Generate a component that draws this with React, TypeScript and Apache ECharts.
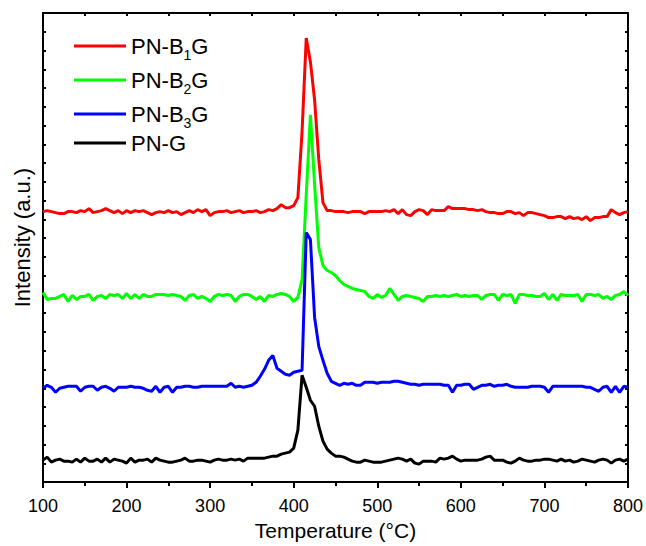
import React, { useEffect, useRef } from "react";
import * as echarts from "echarts";

// Temperature grid (°C)
const temperatures = [
  100, 105, 110, 115, 120, 125, 130, 135, 140, 145, 150, 155, 160, 165, 170, 175, 180, 185, 190, 195,
  200, 205, 210, 215, 220, 225, 230, 235, 240, 245, 250, 255, 260, 265, 270, 275, 280, 285, 290, 295,
  300, 305, 310, 315, 320, 325, 330, 335, 340, 345, 350, 355, 360, 365, 370, 375, 380, 385, 390, 395,
  400, 405, 410, 415, 420, 425, 430, 435, 440, 445, 450, 455, 460, 465, 470, 475, 480, 485, 490, 495,
  500, 505, 510, 515, 520, 525, 530, 535, 540, 545, 550, 555, 560, 565, 570, 575, 580, 585, 590, 595,
  600, 605, 610, 615, 620, 625, 630, 635, 640, 645, 650, 655, 660, 665, 670, 675, 680, 685, 690, 695,
  700, 705, 710, 715, 720, 725, 730, 735, 740, 745, 750, 755, 760, 765, 770, 775, 780, 785, 790, 795,
  800,
];

const seriesNames = ["PN-B1G", "PN-B2G", "PN-B3G", "PN-G"];

// Intensities (a.u., offset traces)
const pnB1G = [
  271, 272, 271, 270, 269, 269, 271, 271, 270, 272, 271, 274, 270, 271, 272, 274, 272, 270, 272, 269,
  272, 270, 272, 271, 272, 270, 268, 270, 271, 270, 272, 270, 271, 268, 270, 272, 270, 273, 271, 273,
  267, 270, 271, 271, 272, 270, 271, 272, 270, 271, 271, 272, 270, 271, 273, 272, 274, 278, 275, 275,
  277, 285, 351, 445, 421, 383, 323, 280, 272, 272, 271, 271, 271, 270, 271, 271, 271, 269, 271, 271,
  271, 271, 272, 271, 273, 269, 273, 268, 267, 271, 273, 272, 268, 273, 272, 272, 272, 276, 274, 274,
  274, 274, 273, 273, 272, 273, 271, 270, 270, 269, 269, 271, 271, 269, 270, 267, 270, 270, 269, 268,
  267, 265, 265, 266, 266, 264, 266, 264, 265, 263, 266, 262, 265, 265, 266, 266, 273, 270, 268, 270,
  271,
];

const pnB2G = [
  190, 183, 184, 184, 186, 188, 181, 187, 183, 186, 186, 188, 182, 186, 187, 184, 188, 187, 188, 184,
  189, 184, 188, 184, 188, 186, 186, 188, 188, 188, 187, 188, 187, 186, 182, 187, 188, 184, 186, 184,
  181, 186, 188, 187, 188, 187, 181, 186, 188, 188, 186, 183, 186, 181, 187, 186, 188, 189, 188, 186,
  181, 185, 203, 288, 368, 298, 235, 217, 212, 210, 207, 202, 198, 196, 194, 193, 192, 191, 186, 184,
  188, 185, 187, 194, 188, 182, 186, 187, 186, 185, 184, 181, 186, 186, 187, 186, 187, 186, 187, 188,
  186, 187, 186, 187, 187, 183, 187, 188, 188, 182, 188, 187, 188, 179, 188, 188, 187, 187, 186, 186,
  189, 183, 188, 182, 188, 187, 187, 187, 188, 181, 188, 188, 187, 188, 184, 186, 183, 187, 188, 191,
  187,
];

const pnB3G = [
  94, 97, 95, 90, 94, 95, 96, 96, 96, 91, 95, 96, 96, 92, 95, 96, 94, 91, 95, 95,
  95, 96, 95, 95, 94, 92, 91, 96, 90, 95, 96, 90, 95, 95, 96, 96, 95, 95, 96, 96,
  96, 96, 96, 96, 96, 99, 95, 96, 95, 96, 97, 100, 106, 113, 122, 127, 114, 111, 108, 107,
  110, 111, 112, 250, 243, 165, 136, 122, 109, 101, 99, 97, 99, 98, 99, 97, 97, 100, 100, 100,
  99, 100, 100, 100, 101, 101, 100, 99, 98, 98, 97, 98, 98, 98, 98, 98, 97, 97, 90, 97,
  97, 98, 98, 93, 95, 97, 97, 98, 96, 97, 97, 98, 96, 95, 95, 95, 95, 96, 96, 96,
  95, 90, 96, 96, 96, 96, 96, 96, 96, 96, 95, 95, 93, 91, 95, 96, 90, 96, 90, 96,
  95,
];

const pnG = [
  22, 25, 20, 22, 23, 21, 21, 20, 23, 20, 24, 21, 21, 23, 20, 24, 20, 23, 22, 21,
  19, 24, 20, 22, 22, 23, 20, 24, 22, 21, 20, 20, 21, 22, 24, 21, 21, 22, 22, 21,
  20, 22, 23, 22, 22, 23, 22, 23, 21, 24, 24, 24, 24, 24, 25, 26, 26, 28, 29, 30,
  34, 52, 107, 95, 82, 76, 56, 41, 33, 29, 26, 26, 25, 23, 21, 20, 20, 22, 21, 20,
  20, 20, 21, 22, 23, 24, 23, 21, 23, 19, 18, 21, 21, 21, 20, 24, 23, 24, 26, 23,
  21, 22, 22, 22, 22, 23, 25, 26, 22, 22, 22, 20, 19, 21, 24, 22, 21, 21, 22, 22,
  23, 23, 22, 21, 23, 21, 22, 20, 21, 23, 22, 21, 20, 22, 23, 22, 19, 22, 23, 21,
  23,
];

const seriesColors = ["#ff0000", "#00ff00", "#0000ff", "#000000"];
const xTickValues = [100, 800, 100];
const yRange = [0, 470, 18.8];

export default function App() {
  const ref = useRef<HTMLDivElement>(null);
  useEffect(() => {
    if (!ref.current) return;
    const chart = echarts.init(ref.current, null, { renderer: "svg" });
    const font = "Liberation Sans, Arial, sans-serif";
    const allValues = [pnB1G, pnB2G, pnB3G, pnG];
    const series = allValues.map((vals, i) => ({
      name: seriesNames[i],
      type: "line",
      data: temperatures.map((t, j) => [t, vals[j]]),
      symbol: "none",
      showSymbol: false,
      lineStyle: { color: seriesColors[i], width: 3 },
      itemStyle: { color: seriesColors[i] },
      xAxisIndex: 0,
      yAxisIndex: 0,
      z: 2 + i,
    }));
    const axisLine = { show: true, onZero: false, lineStyle: { color: "#000", width: 2 } };
    chart.setOption({
      animation: false,
      backgroundColor: "#fff",
      grid: { left: 43, right: 17, top: 13, bottom: 63, containLabel: false },
      legend: {
        orient: "vertical",
        left: 74,
        top: 30,
        padding: 0,
        icon: "rect",
        itemWidth: 52,
        itemHeight: 3,
        itemGap: 2,
        data: seriesNames,
        formatter: (name: string) => {
          const m = name.match(/^(PN-B)(\d)(G)$/);
          if (m) return `{a|${m[1]}}{s|${m[2]}}{a|${m[3]}}`;
          return `{a|${name}}`;
        },
        textStyle: {
          color: "#000",
          fontFamily: font,
          rich: {
            a: { fontSize: 22, fontFamily: font, color: "#000", lineHeight: 32, verticalAlign: "middle" },
            s: {
              fontSize: 14,
              fontFamily: font,
              color: "#000",
              lineHeight: 14,
              verticalAlign: "top",
              padding: [18, 0, 0, 0],
            },
          },
        },
      },
      xAxis: [
        {
          type: "value",
          position: "bottom",
          min: xTickValues[0],
          max: xTickValues[1],
          interval: xTickValues[2],
          name: "Temperature (°C)",
          nameLocation: "middle",
          nameGap: 36,
          nameTextStyle: { fontSize: 21, fontFamily: font, color: "#000" },
          axisLine,
          axisTick: { show: true, length: 6, lineStyle: { color: "#000", width: 2 } },
          minorTick: { show: true, splitNumber: 2, length: 4, lineStyle: { color: "#000", width: 2 } },
          splitLine: { show: false },
          minorSplitLine: { show: false },
          axisLabel: { fontSize: 18, fontFamily: font, color: "#000", margin: 15 },
        },
        {
          type: "value",
          position: "top",
          min: xTickValues[0],
          max: xTickValues[1],
          interval: xTickValues[2] / 2,
          axisLine,
          axisTick: { show: true, inside: true, length: 3, lineStyle: { color: "#000", width: 2 } },
          splitLine: { show: false },
          axisLabel: { show: false },
        },
      ],
      yAxis: [
        {
          type: "value",
          position: "left",
          min: yRange[0],
          max: yRange[1],
          interval: yRange[2],
          name: "Intensity (a.u.)",
          nameLocation: "middle",
          nameGap: 10,
          nameTextStyle: { fontSize: 22, fontFamily: font, color: "#000", padding: [0, 0, 0, 20] },
          axisLine,
          axisTick: { show: true, inside: true, length: 3, lineStyle: { color: "#000", width: 2 } },
          splitLine: { show: false },
          axisLabel: { show: false },
        },
        {
          type: "value",
          position: "right",
          min: yRange[0],
          max: yRange[1],
          interval: yRange[2],
          axisLine,
          axisTick: { show: true, inside: true, length: 3, lineStyle: { color: "#000", width: 2 } },
          splitLine: { show: false },
          axisLabel: { show: false },
        },
      ],
      series,
    });
    return () => chart.dispose();
  }, []);
  return (
    <div
      ref={ref}
      style={{ position: "fixed", left: 0, top: 0, width: 646, height: 546, background: "#fff" }}
    />
  );
}
